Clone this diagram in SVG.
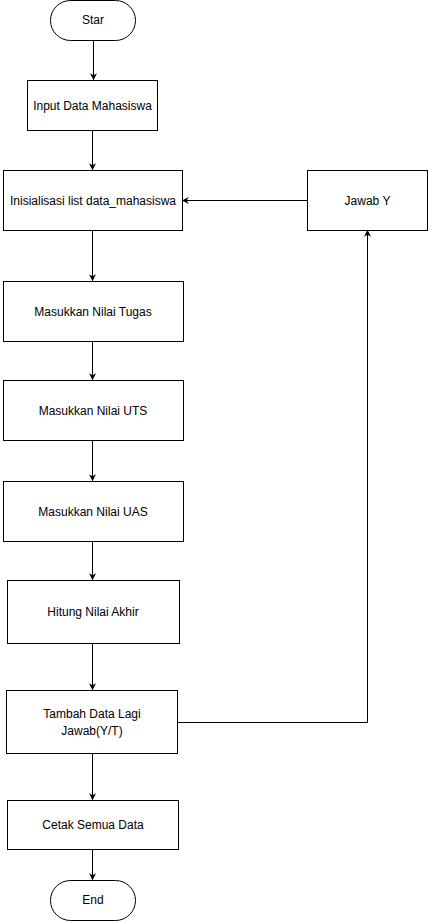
<svg xmlns="http://www.w3.org/2000/svg" width="428" height="921" viewBox="0 0 428 921">
<style>
.n{fill:#fff;stroke:#000;stroke-width:1}
.t{font-family:"Liberation Sans",Arial,sans-serif;font-size:12px;fill:#000;text-anchor:middle;dominant-baseline:central}
.c{fill:none;stroke:#000;stroke-width:1}
</style>
<defs>
<marker id="a" viewBox="0 0 10 10" refX="9" refY="5" markerWidth="7" markerHeight="7" markerUnits="userSpaceOnUse" orient="auto">
<path d="M0,0 L10,5 L0,10 L3,5 Z" fill="#000"/>
</marker>
</defs>
<rect width="428" height="921" fill="#fff"/>
<g id="connectors">
<path class="c" d="M93.5,40.5 V79.5" marker-end="url(#a)"/>
<path class="c" d="M92.5,130.5 V169.5" marker-end="url(#a)"/>
<path class="c" d="M92.5,230.5 V280.5" marker-end="url(#a)"/>
<path class="c" d="M92.5,341.5 V379.5" marker-end="url(#a)"/>
<path class="c" d="M92.5,440.5 V480.5" marker-end="url(#a)"/>
<path class="c" d="M92.5,541.5 V579.5" marker-end="url(#a)"/>
<path class="c" d="M92.5,643.5 V689.5" marker-end="url(#a)"/>
<path class="c" d="M92.5,753.5 V799.5" marker-end="url(#a)"/>
<path class="c" d="M92.5,849.5 V879.5" marker-end="url(#a)"/>
<path class="c" d="M177.5,722.5 H367.5 V230.5" marker-end="url(#a)"/>
<path class="c" d="M307.5,200.5 H182.5" marker-end="url(#a)"/>
</g>
<g id="star"><rect class="n" x="50.5" y="0.5" width="85" height="40" rx="20" ry="20"/><text class="t" x="93" y="20">Star</text></g>
<g id="input"><rect class="n" x="27.5" y="80.5" width="130" height="50"/><text class="t" x="92.5" y="105.5">Input Data Mahasiswa</text></g>
<g id="init"><rect class="n" x="3.5" y="170.5" width="179" height="60"/><text class="t" x="93" y="200.5">Inisialisasi list data_mahasiswa</text></g>
<g id="jawab"><rect class="n" x="307.5" y="170.5" width="120" height="60"/><text class="t" x="367.5" y="200.5">Jawab Y</text></g>
<g id="tugas"><rect class="n" x="3.5" y="281.5" width="180" height="60"/><text class="t" x="93" y="311.5">Masukkan Nilai Tugas</text></g>
<g id="uts"><rect class="n" x="3.5" y="380.5" width="180" height="60"/><text class="t" x="93" y="410.5">Masukkan Nilai UTS</text></g>
<g id="uas"><rect class="n" x="3.5" y="481.5" width="180" height="60"/><text class="t" x="93" y="511.5">Masukkan Nilai UAS</text></g>
<g id="hitung"><rect class="n" x="7.5" y="580.5" width="172" height="63"/><text class="t" x="93" y="612">Hitung Nilai Akhir</text></g>
<g id="tambah"><rect class="n" x="6.5" y="690.5" width="171" height="63"/><text class="t" x="92" y="714">Tambah Data Lagi</text><text class="t" x="92" y="731">Jawab(Y/T)</text></g>
<g id="cetak"><rect class="n" x="7.5" y="800.5" width="171" height="49"/><text class="t" x="93" y="825">Cetak Semua Data</text></g>
<g id="end"><rect class="n" x="50.5" y="880.5" width="85" height="40" rx="20" ry="20"/><text class="t" x="93" y="900">End</text></g>
</svg>
